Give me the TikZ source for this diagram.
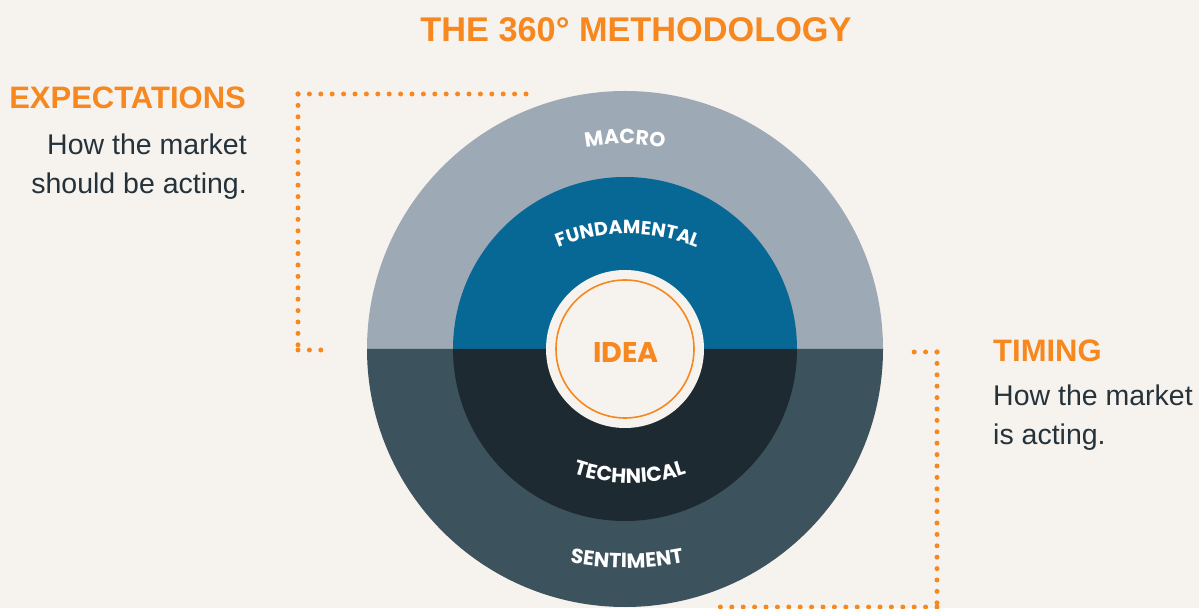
\documentclass[tikz,border=0pt]{standalone}
\usepackage{fontspec}
\setmainfont{Liberation Sans}
\newfontfamily\ringfont{Poppins}[LetterSpace=5]
\newfontfamily\ringfontwide{Poppins}[LetterSpace=10]
\newfontfamily\ideafont{Poppins}
\usetikzlibrary{decorations.text}

\definecolor{bgcream}{HTML}{F6F3EF}
\definecolor{accent}{HTML}{F7871F}
\definecolor{macrogray}{HTML}{9DA9B4}
\definecolor{fundblue}{HTML}{076895}
\definecolor{techdark}{HTML}{1D2A31}
\definecolor{sentslate}{HTML}{3C525C}
\definecolor{bodyink}{HTML}{25323A}

\tikzset{
  heading/.style={text=accent, font=\bfseries\fontsize{31}{34}\selectfont, inner sep=0pt},
  body/.style={text=bodyink, font=\fontsize{28.5}{34}\selectfont, inner sep=0pt},
  dotline/.style={accent, line width=5pt, line cap=round, dash pattern=on 0pt off 11.4pt},
  ringlabel/.style={decorate, decoration={text along path, text align=center, text color=white}}
}

\begin{document}
\begin{tikzpicture}[x=1pt, y=1pt]
  % canvas
  \fill[bgcream] (0,0) rectangle (1199,608);
  \useasboundingbox (0,0) rectangle (1199,608);

  \coordinate (C) at (625,259);

  % outer ring: macro (upper half) and sentiment (lower half)
  \fill[macrogray] (C) ++(0:258) arc (0:180:258) -- cycle;
  \fill[sentslate] (C) ++(180:258) arc (180:360:258) -- cycle;
  % middle ring: fundamental (upper) and technical (lower)
  \fill[fundblue] (C) ++(0:172) arc (0:180:172) -- cycle;
  \fill[techdark] (C) ++(180:172) arc (180:360:172) -- cycle;
  % core
  \fill[bgcream] (C) circle (79);
  \draw[accent, line width=1.6pt] (C) circle (69);
  \node[text=accent, font=\ideafont\bfseries\fontsize{28.5}{30}\selectfont, inner sep=0pt] (idea) at (626,256) {IDEA};

  % ring labels
  \path[ringlabel, decoration={text={|\ringfont\bfseries\fontsize{20.5}{22}\selectfont|MACRO}}, shift={(C)}]
    (112:205) arc (112:68:205);
  \path[ringlabel, decoration={text={|\ringfont\bfseries\fontsize{19}{21}\selectfont|FUNDAMENTAL}}, shift={(628,189)}]
    (126:185) arc (126:54:185);
  \path[ringlabel, decoration={text={|\ringfontwide\bfseries\fontsize{20.5}{22}\selectfont|TECHNICAL}}, shift={(630,305)}]
    (238:180) arc (238:302:180);
  \path[ringlabel, decoration={text={|\ringfontwide\bfseries\fontsize{20.5}{22}\selectfont|SENTIMENT}}, shift={(627,340)}]
    (244:300) arc (244:296:300);

  % title
  \node[heading, font=\bfseries\fontsize{34.3}{38}\selectfont, anchor=base] (title) at (636,566) {THE 360° METHODOLOGY};

  % expectations block
  \node[heading, anchor=base east] (exphead) at (246,499) {EXPECTATIONS};
  \node[body, anchor=base east] (exp1) at (247,453) {How the market};
  \node[body, anchor=base east] (exp2) at (247,414) {should be acting.};

  % timing block
  \node[heading, anchor=base west] (timhead) at (993,246) {TIMING};
  \node[body, anchor=base west] (tim1) at (993,202) {How the market};
  \node[body, anchor=base west] (tim2) at (993,163) {is acting.};

  % dotted brackets
  \coordinate (lt) at (527,514);
  \coordinate (lc) at (298,514);
  \coordinate (lb) at (298,258);
  \coordinate (le) at (331,258);
  \draw[dotline] (lc) -- (lt);
  \draw[dotline] (lc) -- (lb);
  \draw[dotline] (lb) -- (le);

  \coordinate (rs) at (908,256);
  \coordinate (rc) at (937,256);
  \coordinate (rb) at (937,1);
  \coordinate (re) at (712,1);
  \draw[dotline] (rc) -- (rs);
  \draw[dotline] (rc) -- (rb);
  \draw[dotline] (rb) -- (re);
\end{tikzpicture}
\end{document}
